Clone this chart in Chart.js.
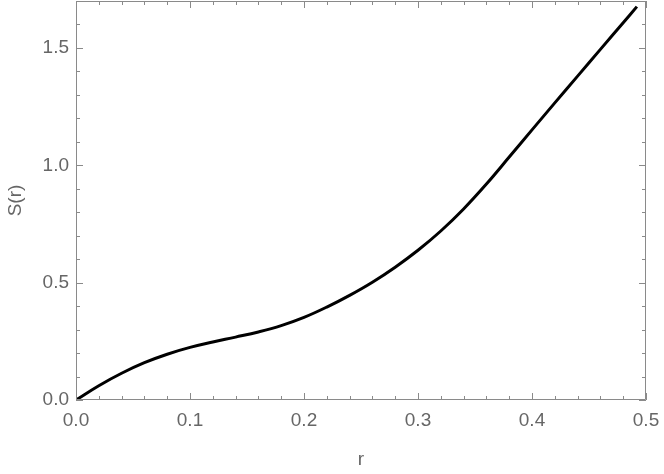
<!DOCTYPE html>
<html>
<head>
<meta charset="utf-8">
<script src="https://cdn.jsdelivr.net/npm/chart.js@4/dist/chart.umd.min.js"></script>
<style>
  html, body { margin: 0; padding: 0; background: #fff; }
  #wrap { width: 664px; height: 474px; }
</style>
</head>
<body>
<div id="wrap"><canvas id="c" width="664" height="474"></canvas></div>
<script>
const rValues = [0, 0.02, 0.04, 0.06, 0.08, 0.10, 0.12, 0.14, 0.16, 0.18, 0.20, 0.22, 0.24, 0.26, 0.28, 0.30, 0.32, 0.34, 0.36, 0.38, 0.40, 0.42, 0.44, 0.46, 0.48, 0.492];
const sValues = [0, 0.061, 0.114, 0.159, 0.195, 0.224, 0.247, 0.268, 0.290, 0.317, 0.352, 0.396, 0.446, 0.502, 0.566, 0.638, 0.720, 0.814, 0.920, 1.035, 1.151, 1.266, 1.380, 1.494, 1.607, 1.676];
const xTickLabels = ["0.0", "0.1", "0.2", "0.3", "0.4", "0.5"];
const yTickLabels = ["0.0", "0.5", "1.0", "1.5"];
const xTitle = "r";
const yTitle = "S(r)";

const FRAME = '#8a8a8a';
const LABEL = '#666666';
const FONT = "'Liberation Sans', Arial, sans-serif";

const framePlugin = {
  id: 'frame',
  afterDraw(chart) {
    const ctx = chart.ctx;
    const a = chart.chartArea;
    const xs = chart.scales.x, ys = chart.scales.y;
    ctx.save();
    ctx.strokeStyle = FRAME;
    ctx.lineWidth = 1;
    ctx.beginPath();
    ctx.rect(Math.round(a.left) + 0.5, Math.round(a.top) + 0.5, Math.round(a.right - a.left) - 1, Math.round(a.bottom - a.top) - 1);
    ctx.stroke();
    ctx.beginPath();
    for (let i = 0; i <= 25; i++) {
      const v = i * 0.02;
      const major = i % 5 === 0;
      const len = major ? 7 : 4;
      const px = Math.round(xs.getPixelForValue(v)) + 0.5;
      ctx.moveTo(px, a.bottom); ctx.lineTo(px, a.bottom - len);
      ctx.moveTo(px, a.top); ctx.lineTo(px, a.top + len);
    }
    for (let i = 0; i <= 17; i++) {
      const v = i * 0.1;
      const major = i % 5 === 0;
      const len = major ? 7 : 4;
      const py = Math.round(ys.getPixelForValue(v)) + 0.5;
      ctx.moveTo(a.left, py); ctx.lineTo(a.left + len, py);
      ctx.moveTo(a.right, py); ctx.lineTo(a.right - len, py);
    }
    ctx.stroke();
    ctx.restore();
  }
};

const data = rValues.map((r, i) => ({ x: r, y: sValues[i] }));

new Chart(document.getElementById('c'), {
  type: 'line',
  data: {
    datasets: [{
      data: data,
      borderColor: '#000',
      borderWidth: 3,
      pointRadius: 0,
      fill: false,
      tension: 0.4
    }]
  },
  options: {
    responsive: false,
    animation: false,
    layout: { padding: { top: 1, right: 18, left: 0, bottom: 0 } },
    plugins: { legend: { display: false }, tooltip: { enabled: false } },
    scales: {
      x: {
        type: 'linear',
        min: 0, max: 0.5,
        afterBuildTicks(s) { s.ticks = xTickLabels.map(t => ({ value: parseFloat(t) })); },
        afterFit(s) { s.height = 74; s.paddingLeft = 0; s.paddingRight = 0; },
        ticks: {
          color: LABEL,
          font: { family: FONT, size: 19 },
          padding: 9,
          maxRotation: 0,
          callback: (v) => xTickLabels.find(t => Math.abs(parseFloat(t) - v) < 1e-9)
        },
        grid: { display: false, drawTicks: false },
        border: { display: false },
        title: { display: true, text: xTitle, color: LABEL, font: { family: FONT, size: 19 }, padding: { top: 0, bottom: 3 } }
      },
      y: {
        type: 'linear',
        min: 0, max: 1.7,
        afterBuildTicks(s) { s.ticks = yTickLabels.map(t => ({ value: parseFloat(t) })); },
        afterFit(s) { s.width = 76; s.paddingTop = 0; s.paddingBottom = 0; },
        ticks: {
          color: LABEL,
          font: { family: FONT, size: 19 },
          padding: 7,
          callback: (v) => yTickLabels.find(t => Math.abs(parseFloat(t) - v) < 1e-9)
        },
        grid: { display: false, drawTicks: false },
        border: { display: false },
        title: { display: true, text: yTitle, color: LABEL, font: { family: FONT, size: 19 }, padding: { top: 4, bottom: 0 } }
      }
    }
  },
  plugins: [framePlugin]
});
</script>
</body>
</html>
